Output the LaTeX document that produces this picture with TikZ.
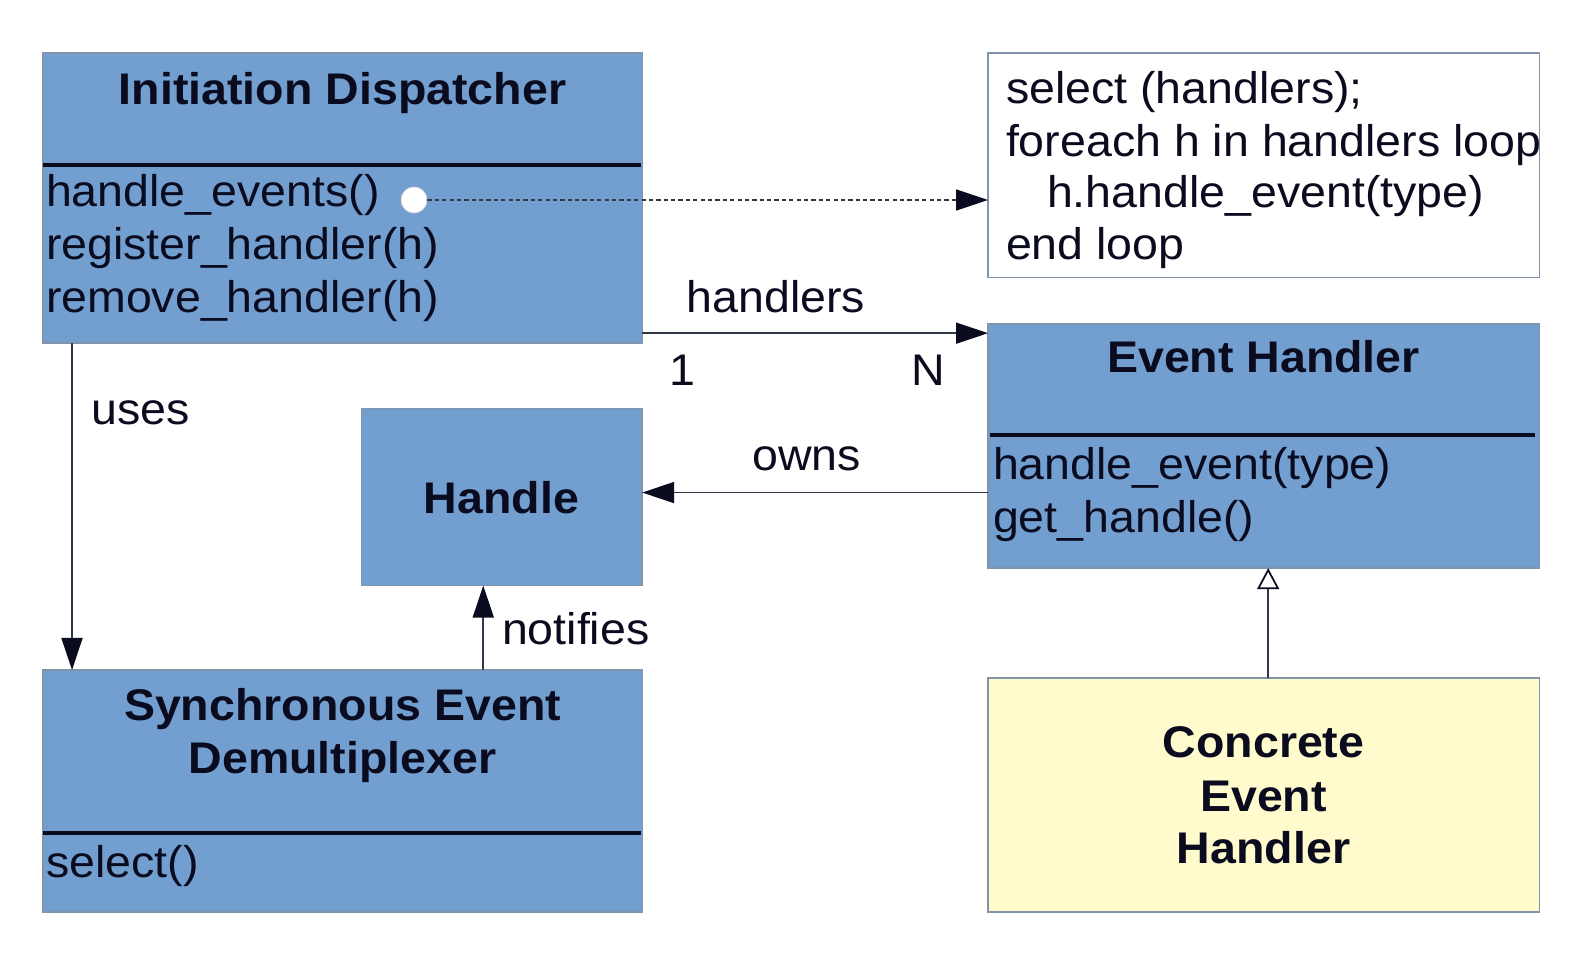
\documentclass[tikz,border=0pt]{standalone}
\usepackage{fontspec}
\setmainfont{Liberation Sans}[FakeStretch=1.05]
\usetikzlibrary{arrows.meta}

\definecolor{umlblue}{HTML}{729FCF}
\definecolor{umlyellow}{HTML}{FFFBCC}
\definecolor{boxline}{HTML}{8194AA}
\definecolor{linecol}{HTML}{2E3A48}
\definecolor{inkcol}{HTML}{0A0B1E}

\tikzset{
	txt/.style={font=\fontsize{12.6pt}{15pt}\selectfont, text=inkcol, inner sep=0pt, outer sep=0pt},
	title/.style={txt, font=\fontsize{12.6pt}{15pt}\selectfont\bfseries, anchor=base},
	member/.style={txt, anchor=base west},
	classbox/.style={draw=boxline, fill=umlblue, line width=0.4pt, inner sep=0pt, outer sep=0pt, anchor=north west},
	notebox/.style={classbox, fill=white},
	leafbox/.style={classbox, fill=umlyellow},
	divider/.style={line width=1.1pt, inkcol},
	assoc/.style={draw=linecol, line width=0.5pt, -{Triangle[length=0.32cm,width=0.21cm,color=inkcol]}},
	realize/.style={assoc, dash pattern=on 1.2pt off 0.9pt, line width=0.4pt},
	inherit/.style={draw=linecol, line width=0.5pt, -{Triangle[open,length=0.21cm,width=0.22cm,color=inkcol,fill=white]}}
}

\begin{document}
\begin{tikzpicture}[x=0.01cm, y=-0.01cm]
		%%%%% START %%%%%
		\useasboundingbox (0, 0) rectangle (1586, 961);
		
		% boxes
		\node[classbox, minimum width=5.99cm, minimum height=2.90cm] (disp) at (43, 53) {};
		\node[notebox, minimum width=5.51cm, minimum height=2.245cm] (code) at (988, 53) {};
		\node[classbox, minimum width=5.51cm, minimum height=2.44cm] (evh) at (988, 324) {};
		\node[classbox, minimum width=2.805cm, minimum height=1.77cm] (handle) at (361.5, 408.5) {};
		\node[classbox, minimum width=5.99cm, minimum height=2.42cm] (demux) at (43, 670) {};
		\node[leafbox, minimum width=5.51cm, minimum height=2.34cm] (concrete) at (988, 678) {};
		
		% Initiation Dispatcher
		\node[title] (dispname) at (342.5, 105) {Initiation Dispatcher};
		\draw[divider] (43, 165) -- (641, 165);
		\node[member] (hev) at (46, 207) {handle\_events()};
		\node[member] (reg) at (46, 260) {register\_handler(h)};
		\node[member] (rem) at (46, 312) {remove\_handler(h)};
		\node[circle, fill=white, draw=white!85!black, line width=0.2pt, minimum size=0.26cm, inner sep=0pt] (hevdot) at (414, 200) {};
		
		% note
		\node[member] (c1) at (1006, 104) {select (handlers);};
		\node[member] (c2) at (1006, 157) {foreach h in handlers loop};
		\node[member] (c3) at (1047, 208) {h.handle\_event(type)};
		\node[member] (c4) at (1006, 260) {end loop};
		
		% Event Handler
		\node[title] (evhname) at (1263.5, 373) {Event Handler};
		\draw[divider] (990, 435) -- (1535, 435);
		\node[member] (he) at (993, 479) {handle\_event(type)};
		\node[member] (gh) at (993, 532) {get\_handle()};
		
		% Handle
		\node[title] (handlename) at (501.5, 513) {Handle};
		
		% Synchronous Event Demultiplexer
		\node[title] (demux1) at (342.5, 720) {Synchronous Event};
		\node[title] (demux2) at (342.5, 773) {Demultiplexer};
		\draw[divider] (43, 833) -- (641, 833);
		\node[member] (sel) at (46, 877) {select()};
		
		% Concrete Event Handler
		\node[title] (ce1) at (1263.5, 757) {Concrete};
		\node[title] (ce2) at (1263.5, 811) {Event};
		\node[title] (ce3) at (1263.5, 863) {Handler};
		
		% connectors
		\draw[realize] (hevdot.east) -- (hevdot.east -| code.west);
		
		\draw[assoc] ([yshift=0.1cm]disp.south east) coordinate (hs) -- (hs -| evh.west);
		\node[txt, anchor=base] (hlabel) at (776, 313) {handlers};
		\node[txt, anchor=base] (one) at (682, 385) {1};
		\node[txt, anchor=base] (many) at (928, 385) {N};
		
		\draw[assoc] ([xshift=0.29cm]disp.south west) coordinate (us) -- (us |- demux.north);
		\node[member] (ulabel) at (91.5, 424.5) {uses};
		
		\path ([yshift=0.045cm]handle.east) coordinate (ow);
		\draw[assoc] (ow -| evh.west) -- (ow);
		\node[txt, anchor=base] (olabel) at (806.5, 470.5) {owns};
		
		\draw[assoc] ([xshift=4.4cm]demux.north west) coordinate (nt) -- (nt |- handle.south);
		\node[member] (nlabel) at (502, 644) {notifies};
		
		\draw[inherit] ([xshift=2.8cm]concrete.north west) coordinate (ih) -- (ih |- evh.south);
		
		%%%%% END %%%%%
	\end{tikzpicture}
\end{document}
